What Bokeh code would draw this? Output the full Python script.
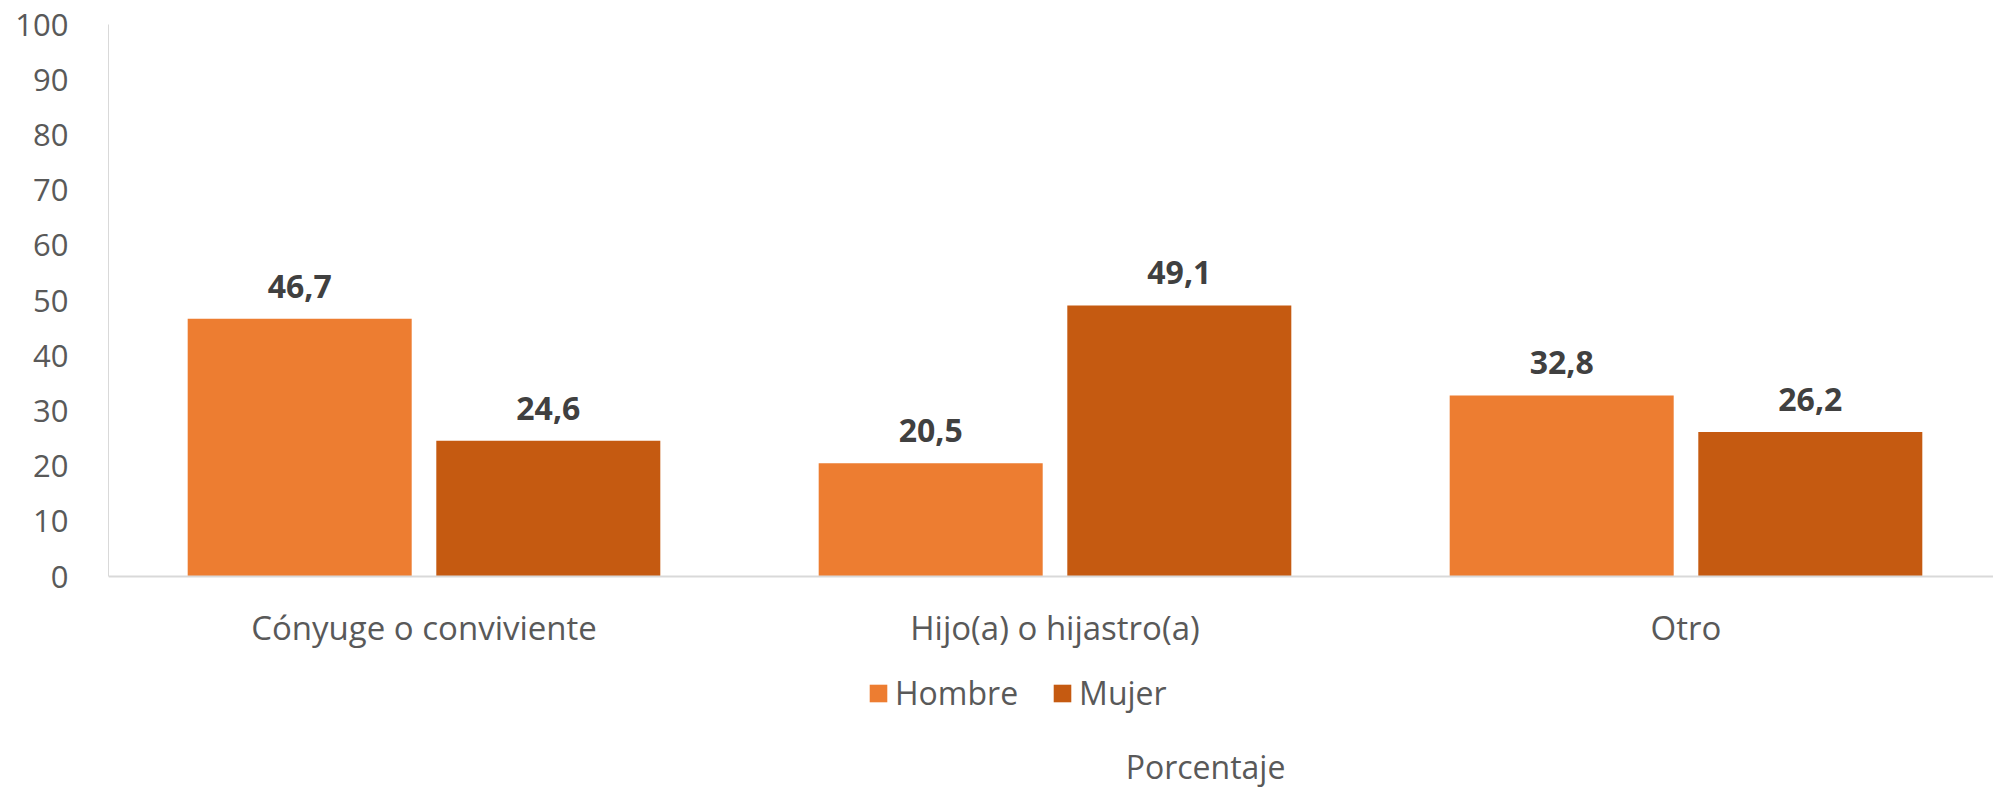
from bokeh.plotting import figure
from bokeh.models import (Range1d, FixedTicker, ColumnDataSource, LabelSet, Legend, LegendItem, Label)
from bokeh.core.properties import value
from bokeh.embed import file_html
from bokeh.resources import INLINE

categories = ["Cónyuge o conviviente", "Hijo(a) o hijastro(a)", "Otro"]
hombre = [46.7, 20.5, 32.8]
mujer = [24.6, 49.1, 26.2]
hombre_labels = ["46,7", "20,5", "32,8"]
mujer_labels = ["24,6", "49,1", "26,2"]
y_ticks = [0, 10, 20, 30, 40, 50, 60, 70, 80, 90, 100]

FONT = "Open Sans"
C_H = "#ED7D31"
C_M = "#C55A11"

W, H = 1993, 790
ML, MT = 108, 24
PX_PER_UNIT = 5.52          # vertical pixels per percentage point
CAT_PX = 631.0              # horizontal pixels per category
FRAME_W = W - ML
FRAME_H = H - MT
Y_MAX = 100
Y_MIN = Y_MAX - FRAME_H / PX_PER_UNIT   # room under the baseline for labels & legend

p = figure(width=W, height=H, output_backend="svg", toolbar_location=None,
           x_range=Range1d(0, FRAME_W / CAT_PX), y_range=Range1d(Y_MIN, Y_MAX),
           min_border_left=ML, min_border_top=MT, min_border_bottom=0, min_border_right=0)
p.outline_line_color = None
p.grid.visible = False
p.background_fill_color = "white"
p.border_fill_color = "white"

centers = [i + 0.5 for i in range(len(categories))]
off = 0.197
bw = 0.355
src = ColumnDataSource(dict(
    xh=[c - off for c in centers], xm=[c + off for c in centers],
    h=hombre, m=mujer, hl=hombre_labels, ml=mujer_labels))

rh = p.vbar(x="xh", top="h", width=bw, bottom=0, source=src, fill_color=C_H, line_color=None)
rm = p.vbar(x="xm", top="m", width=bw, bottom=0, source=src, fill_color=C_M, line_color=None)

for xcol, ycol, tcol in (("xh", "h", "hl"), ("xm", "m", "ml")):
    p.add_layout(LabelSet(x=xcol, y=ycol, text=tcol, source=src, y_offset=21,
                          text_align="center", text_baseline="alphabetic",
                          text_font=value(FONT), text_font_size="32px", text_font_style="bold",
                          text_color="#404040"))

# y axis
p.yaxis.ticker = FixedTicker(ticks=y_ticks)
p.yaxis.bounds = (0, 100)
p.yaxis.major_tick_line_color = None
p.yaxis.minor_tick_line_color = None
p.yaxis.axis_line_color = "#D9D9D9"
p.yaxis.axis_line_width = 1
p.yaxis.major_label_text_font = FONT
p.yaxis.major_label_text_font_size = "31px"
p.yaxis.major_label_text_color = "#595959"
p.yaxis.major_label_standoff = 34

# x axis drawn at y = 0 inside the frame
p.xaxis.fixed_location = 0
p.xaxis.ticker = FixedTicker(ticks=centers)
p.xaxis.major_label_overrides = {c: n for c, n in zip(centers, categories)}
p.xaxis.major_tick_line_color = None
p.xaxis.minor_tick_line_color = None
p.xaxis.axis_line_color = "#D9D9D9"
p.xaxis.axis_line_width = 2
p.xaxis.major_label_text_font = FONT
p.xaxis.major_label_text_font_size = "33px"
p.xaxis.major_label_text_color = "#595959"
p.xaxis.major_label_standoff = 22

legend = Legend(items=[LegendItem(label="Hombre", renderers=[rh]),
                       LegendItem(label="Mujer", renderers=[rm])],
                orientation="horizontal", location=(759, 76),
                glyph_width=22, glyph_height=22, label_standoff=6, spacing=33,
                padding=0, margin=0, border_line_color=None, background_fill_alpha=0,
                label_text_font=FONT, label_text_font_size="32px", label_text_color="#595959")
p.add_layout(legend, "center")

p.add_layout(Label(x=1097, y=24, x_units="screen", y_units="screen", text="Porcentaje",
                   text_align="center", text_baseline="middle", text_font=FONT,
                   text_font_size="32px", text_color="#595959"))

open("out.html", "w").write(file_html(p, INLINE))
